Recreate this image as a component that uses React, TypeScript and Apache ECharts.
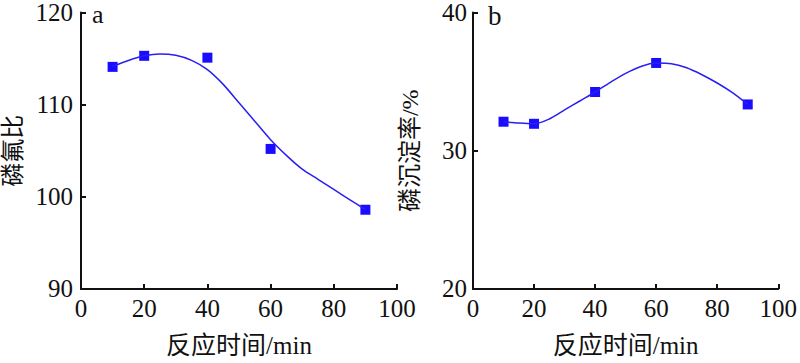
import React, { useEffect, useRef } from "react";
import * as echarts from "echarts";

// Measured points (reaction time, min)
const timesA = [10, 20, 40, 60, 90];
const ratioA = [114.1, 115.3, 115.1, 105.2, 98.6];
const timesB = [10, 20, 40, 60, 90];
const rateB = [32.1, 31.95, 34.25, 36.35, 33.35];

// Fitted curves
const fitX = [10, 15, 20, 25, 30, 35, 40, 45, 50, 55, 60, 65, 70, 75, 80, 85, 90];
const fitA = [114.15, 114.8, 115.3, 115.5, 115.35, 114.8, 113.8, 112.2, 110.2, 108.2, 106.2, 104.5, 103.0, 101.9, 100.8, 99.7, 98.6];
const fitB = [32.1, 32.0, 31.95, 32.3, 32.95, 33.6, 34.25, 34.95, 35.6, 36.1, 36.35, 36.3, 36.0, 35.5, 34.9, 34.2, 33.35];

const xTicks = { min: 0, max: 100, interval: 20 };
const yTicksA = { min: 90, max: 120, interval: 10 };
const yTicksB = { min: 20, max: 40, interval: 10 };

const xName = "反应时间/min";
const yNameA = "磷氟比";
const yNameB = "磷沉淀率/%";
const panelLabels = ["a", "b"];

const BLUE = "#1a0cff";
const LINE_BLUE = "#2a1ff0";
const FONT = "Liberation Serif, Noto Sans CJK SC, serif";

const zip = (xs: number[], ys: number[]) => xs.map((x, i) => [x, ys[i]]);

export default function App() {
  const ref = useRef<HTMLDivElement>(null);
  useEffect(() => {
    if (!ref.current) return;
    const chart = echarts.init(ref.current, null, { renderer: "svg" });
    const axisLine = { show: true, lineStyle: { color: "#111", width: 2 } };
    const axisTick = { show: true, inside: true, length: 5, lineStyle: { color: "#111", width: 2 } };
    const xAxisBase = (gridIndex: number) => ({
      type: "value",
      gridIndex,
      ...xTicks,
      name: xName,
      nameLocation: "middle",
      nameGap: 44,
      nameTextStyle: { fontFamily: FONT, fontSize: 25, color: "#111" },
      axisLine,
      axisTick,
      splitLine: { show: false },
      axisLabel: { fontFamily: FONT, fontSize: 25, color: "#111", margin: 7 },
    });
    const yAxisBase = (gridIndex: number, ticks: any, name: string, gap: number, margin: number) => ({
      type: "value",
      gridIndex,
      ...ticks,
      name,
      nameLocation: "middle",
      nameRotate: 90,
      nameGap: gap,
      nameTextStyle: { fontFamily: FONT, fontSize: 24, color: "#111" },
      axisLine,
      axisTick,
      splitLine: { show: false },
      axisLabel: { fontFamily: FONT, fontSize: 25, color: "#111", margin },
    });
    chart.setOption({
      animation: false,
      backgroundColor: "#fff",
      grid: [
        { left: 80, top: 11, width: 317, height: 282 },
        { left: 473, top: 12, width: 316, height: 281 },
      ],
      xAxis: [xAxisBase(0), xAxisBase(1)],
      yAxis: [
        yAxisBase(0, yTicksA, yNameA, 56, 8),
        yAxisBase(1, yTicksB, yNameB, 51, 6),
      ],
      graphic: [
        { type: "text", left: 92, top: 1, style: { text: panelLabels[0], font: `26px ${FONT}`, fill: "#111" } },
        { type: "text", left: 488, top: 2, style: { text: panelLabels[1], font: `27px ${FONT}`, fill: "#111" } },
      ],
      series: [
        {
          type: "line",
          xAxisIndex: 0,
          yAxisIndex: 0,
          data: zip(fitX, fitA),
          smooth: 0.3,
          symbol: "none",
          lineStyle: { color: LINE_BLUE, width: 1.5 },
        },
        {
          type: "scatter",
          xAxisIndex: 0,
          yAxisIndex: 0,
          data: zip(timesA, ratioA),
          symbol: "rect",
          symbolSize: 10,
          itemStyle: { color: BLUE, opacity: 1 },
        },
        {
          type: "line",
          xAxisIndex: 1,
          yAxisIndex: 1,
          data: zip(fitX, fitB),
          smooth: 0.3,
          symbol: "none",
          lineStyle: { color: LINE_BLUE, width: 1.5 },
        },
        {
          type: "scatter",
          xAxisIndex: 1,
          yAxisIndex: 1,
          data: zip(timesB, rateB),
          symbol: "rect",
          symbolSize: 10,
          itemStyle: { color: BLUE, opacity: 1 },
        },
      ],
    });
    return () => chart.dispose();
  }, []);
  return <div ref={ref} style={{ width: 800, height: 363, position: "absolute", left: 0, top: 0 }} />;
}
